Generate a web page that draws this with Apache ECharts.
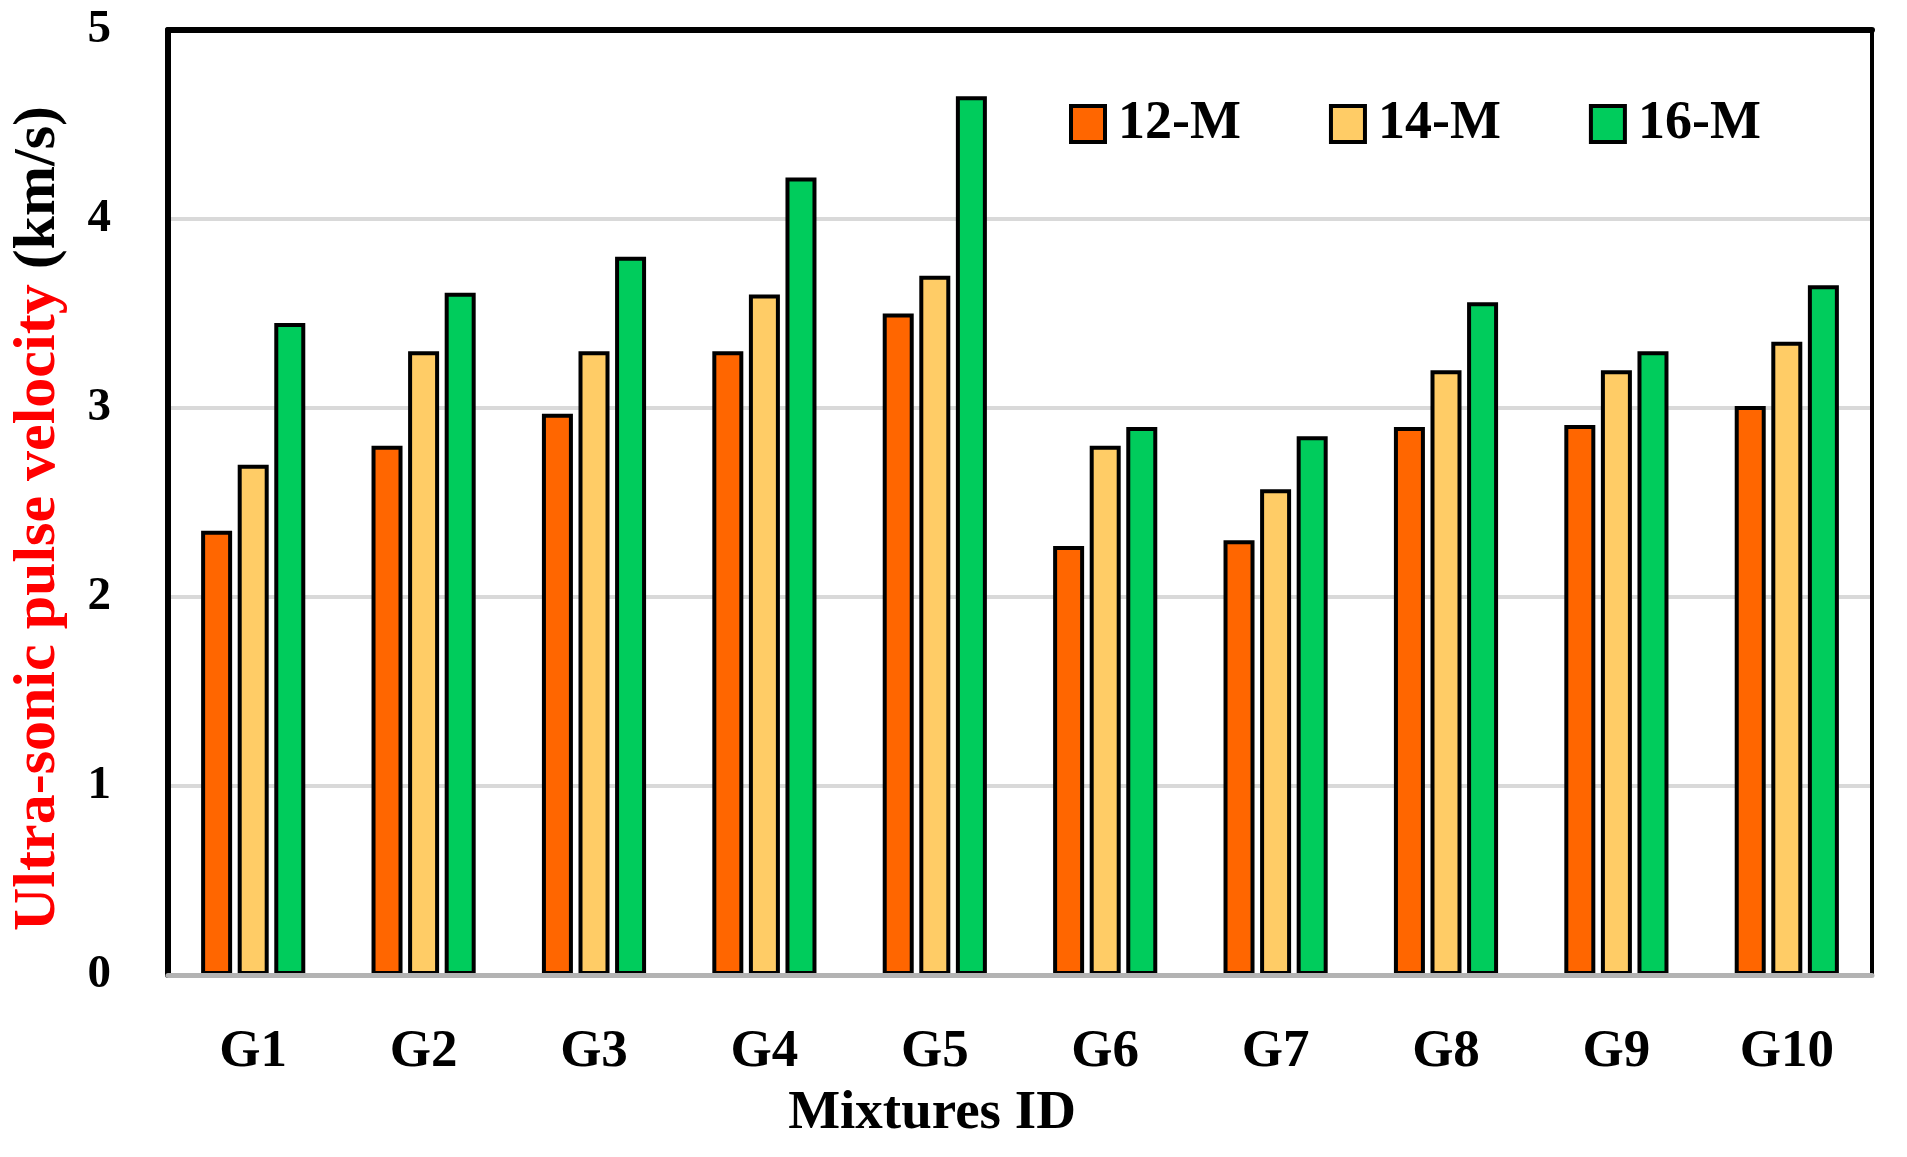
<!DOCTYPE html>
<html>
<head>
<meta charset="utf-8">
<script src="https://cdn.jsdelivr.net/npm/echarts@6/dist/echarts.min.js"></script>
<style>html,body{margin:0;padding:0;background:#fff;}#c{width:1907px;height:1157px;}</style>
</head>
<body>
<div id="c"></div>
<script>
const categories = ['G1','G2','G3','G4','G5','G6','G7','G8','G9','G10'];
const seriesNames = ['12-M','14-M','16-M'];
const v12 = [2.35, 2.80, 2.97, 3.30, 3.50, 2.27, 2.30, 2.90, 2.91, 3.01];
const v14 = [2.70, 3.30, 3.30, 3.60, 3.70, 2.80, 2.57, 3.20, 3.20, 3.35];
const v16 = [3.45, 3.61, 3.80, 4.22, 4.65, 2.90, 2.85, 3.56, 3.30, 3.65];
const yTicks = [0, 1, 2, 3, 4, 5];
const colors = ['#FF6600', '#FFCC66', '#00CC5C'];

const font = '"Liberation Serif", "DejaVu Serif", serif';
const chart = echarts.init(document.getElementById('c'), null, {renderer: 'canvas'});
const values = [v12, v14, v16];
const yMin = yTicks[0], yMax = yTicks[yTicks.length - 1];
chart.setOption({
  animation: false,
  backgroundColor: '#fff',
  grid: {left: 167, right: 35, top: 30, bottom: 182, show: false},
  legend: {
    data: seriesNames,
    left: 1064, top: 92,
    itemWidth: 34, itemHeight: 36, itemGap: 88,
    icon: 'rect',
    textStyle: {fontFamily: font, fontWeight: 'bold', fontSize: 54, color: '#000', padding: [0,0,0,8]},
    itemStyle: {borderColor: '#000', borderWidth: 4}
  },
  xAxis: [{
    type: 'category',
    data: categories,
    axisTick: {show: false},
    axisLine: {show: true, lineStyle: {color: '#b3b3b3', width: 5}},
    axisLabel: {fontFamily: font, fontWeight: 'bold', fontSize: 53, color: '#000', margin: 51},
    name: 'Mixtures ID',
    nameLocation: 'middle',
    nameGap: 111,
    nameMoveOverlap: false,
    nameTextStyle: {fontFamily: font, fontWeight: 'bold', fontSize: 55, color: '#000', padding: [0, 176, 0, 0]},
    z: 7
  }, {
    type: 'category',
    data: categories,
    position: 'top',
    axisTick: {show: false},
    axisLabel: {show: false},
    axisLine: {show: true, onZero: false, lineStyle: {color: '#000', width: 6}},
    z: 7
  }],
  yAxis: [{
    type: 'value',
    min: yMin, max: yMax, interval: 1,
    axisLine: {show: true, lineStyle: {color: '#000', width: 6}},
    axisTick: {show: false},
    splitLine: {show: true, lineStyle: {color: '#d9d9d9', width: 4}},
    axisLabel: {fontFamily: font, fontWeight: 'bold', fontSize: 47, color: '#000', margin: 57},
    name: '{r|Ultra-sonic pulse velocity} {b|(km/s)}',
    nameLocation: 'middle',
    nameRotate: 90,
    nameGap: 100,
    nameTextStyle: {
      fontFamily: font, fontWeight: 'bold', fontSize: 60,
      padding: [0, 32, 0, 0],
      rich: {
        r: {fontFamily: font, fontWeight: 'bold', fontSize: 60, color: '#FF0000'},
        b: {fontFamily: font, fontWeight: 'bold', fontSize: 60, color: '#000'}
      }
    },
    z: 2
  }, {
    type: 'value',
    min: yMin, max: yMax, interval: 1,
    position: 'right',
    axisLine: {show: true, onZero: false, lineStyle: {color: '#000', width: 4}},
    axisTick: {show: false},
    axisLabel: {show: false},
    splitLine: {show: false},
    z: 7
  }],
  series: seriesNames.map((n, i) => ({
    name: n,
    type: 'bar',
    data: values[i],
    barWidth: 31,
    barGap: '18%',
    z: 5,
    itemStyle: {color: colors[i], borderColor: '#000', borderWidth: 4},
    emphasis: {disabled: true}
  }))
});
</script>
</body>
</html>
